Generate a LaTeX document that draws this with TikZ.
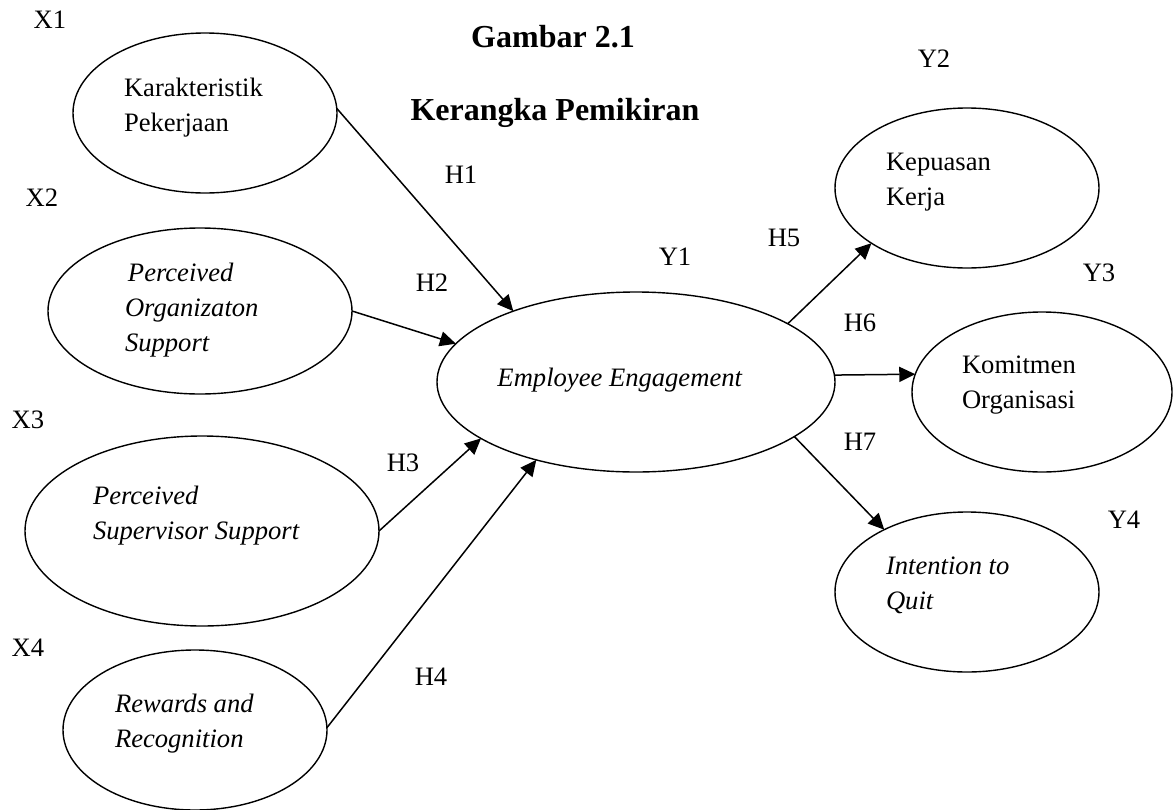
\documentclass[tikz,border=0pt]{standalone}
\usepackage{fontspec}
\setmainfont{Liberation Serif}
\usepackage{tikz}
\usetikzlibrary{arrows.meta}
\usetikzlibrary{shapes}

\begin{document}
\begin{tikzpicture}[x=0.5pt, y=-0.5pt,
        every node/.style={inner sep=0pt, outer sep=0pt, font=\fontsize{13.3}{17.5}\selectfont},
        var/.style={ellipse, draw, line width=0.7pt},
        vartext/.style={anchor=west, align=left},
        title/.style={anchor=base, font=\fontsize{16}{19}\selectfont\bfseries},
        hyp/.style={-{Triangle[length=8pt,width=7.5pt]}, line width=0.75pt}]
        \useasboundingbox (0,0) rectangle (1173,809);

        \node[title] (gambar) at (553,47) {Gambar 2.1};
        \node[title] (kerangka) at (555,120) {Kerangka Pemikiran};

        % variabel independen
        \node[var, minimum width=132pt, minimum height=80pt] (x1) at (205,113) {};
        \node[vartext] (x1text) at (124,108) {Karakteristik\\Pekerjaan};
        \node (x1lbl) at (50,20) {X1};

        \node[var, minimum width=152pt, minimum height=83pt] (x2) at (200,311) {};
        \node[vartext] (x2text) at (125,310) {\textit{\hspace{1.5pt}Perceived}\\\textit{Organizaton}\\\textit{Support}};
        \node (x2lbl) at (42,198) {X2};

        \node[var, minimum width=177pt, minimum height=95pt] (x3) at (202,531) {};
        \node[vartext] (x3text) at (93,516) {\textit{Perceived}\\\textit{Supervisor Support}};
        \node (x3lbl) at (28,420) {X3};

        \node[var, minimum width=132pt, minimum height=80pt] (x4) at (195,730) {};
        \node[vartext] (x4text) at (115,724) {\textit{Rewards and}\\\textit{Recognition}};
        \node (x4lbl) at (28,648) {X4};

        % variabel intervening
        \node[var, minimum width=199pt, minimum height=90pt] (y1) at (636,382) {};
        \node (y1text) at (620,380) {\textit{Employee Engagement}};
        \node (y1lbl) at (675,257) {Y1};

        % variabel dependen
        \node[var, minimum width=132pt, minimum height=80pt] (y2) at (967,188) {};
        \node[vartext] (y2text) at (886,182) {Kepuasan\\Kerja};
        \node (y2lbl) at (934,59) {Y2};

        \node[var, minimum width=130pt, minimum height=80pt] (y3) at (1042,392) {};
        \node[vartext] (y3text) at (962,385) {Komitmen\\Organisasi};
        \node (y3lbl) at (1099,273) {Y3};

        \node[var, minimum width=132pt, minimum height=80pt] (y4) at (967,592) {};
        \node[vartext] (y4text) at (886,585) {\textit{Intention to}\\\textit{Quit}};
        \node (y4lbl) at (1124,520) {Y4};

        % hipotesis
        \draw[hyp] (x1.2) -- (y1.150);
        \draw[hyp] (x2.0) -- (y1.168);
        \draw[hyp] (x3.0) -- (y1.200);
        \draw[hyp] (x4.1) -- (y1.218);
        \draw[hyp] (y1.21) -- (y2.210);
        \draw[hyp] (y1.2) -- (y3.172);
        \draw[hyp] (y1.-19) -- (y4.143);

        \node (h1) at (461,175) {H1};
        \node (h2) at (432,283) {H2};
        \node (h3) at (403,463) {H3};
        \node (h4) at (431,677) {H4};
        \node (h5) at (784,238) {H5};
        \node (h6) at (860,323) {H6};
        \node (h7) at (860,442) {H7};
    \end{tikzpicture}
\end{document}
